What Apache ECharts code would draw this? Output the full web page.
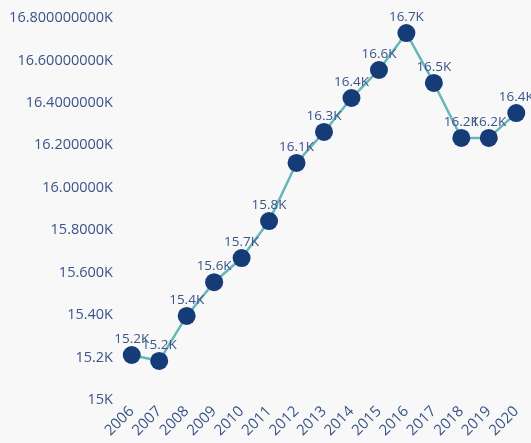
<!DOCTYPE html>
<html><head><meta charset="utf-8">
<script src="https://cdn.jsdelivr.net/npm/echarts@6/dist/echarts.min.js"></script>
<style>html,body{margin:0;padding:0;background:#f8f8f8}#c{width:531px;height:443px}</style>
</head><body><div id="c"></div>
<script>
const years = ['2006','2007','2008','2009','2010','2011','2012','2013','2014','2015','2016','2017','2018','2019','2020'];
const values = [15212,15184,15396,15555,15669,15843,16117,16263,16423,16555,16729,16494,16235,16235,16352];
const yTickLabels = ['15K','15.2K','15.40K','15.600K','15.8000K','16.00000K','16.200000K','16.4000000K','16.60000000K','16.800000000K'];
const yMin = 15000, yMax = 16800, yStep = 200;

const chart = echarts.init(document.getElementById('c'));
chart.setOption({
  backgroundColor: '#f8f8f8',
  animation: false,
  grid: {left: 118, right: 1, top: 18, bottom: 43},
  xAxis: {
    type: 'category', data: years, boundaryGap: true,
    axisLine: {show: false}, axisTick: {show: false},
    axisLabel: {rotate: 45, color: '#3a5488', fontFamily: 'Open Sans', fontSize: 15, margin: 9, interval: 0}
  },
  yAxis: {
    type: 'value', min: yMin, max: yMax, interval: yStep,
    splitLine: {show: false}, axisLine: {show: false}, axisTick: {show: false},
    axisLabel: {
      color: '#3a5488', fontFamily: 'Open Sans', fontSize: 14.5, margin: 5,
      formatter: v => yTickLabels[Math.round((v - yMin) / yStep)]
    }
  },
  series: [{
    type: 'line', data: values,
    symbol: 'circle', symbolSize: 18,
    lineStyle: {color: '#66b7ba', width: 2.5},
    itemStyle: {color: '#163c78'},
    label: {
      show: true, position: 'top', distance: 0,
      color: '#3a5488', fontFamily: 'Open Sans', fontSize: 13.5,
      formatter: p => (p.value / 1000).toFixed(1) + 'K'
    }
  }]
});
</script></body></html>
